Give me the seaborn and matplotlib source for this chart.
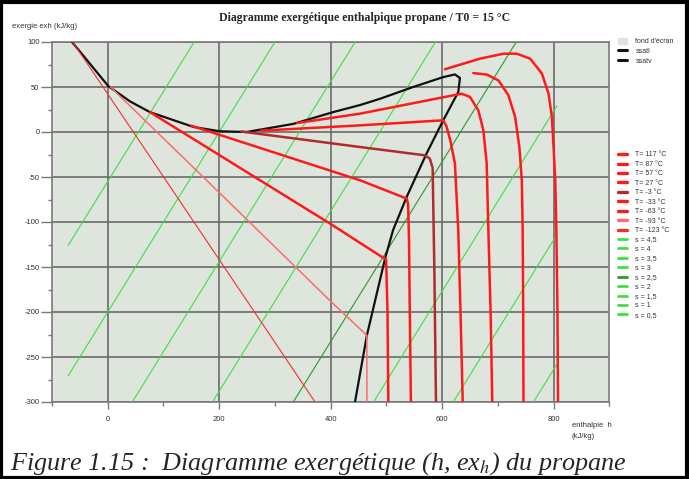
import numpy as np
import pandas as pd
import matplotlib
matplotlib.use("Agg")
import matplotlib.pyplot as plt
import seaborn as sns
from matplotlib.lines import Line2D
from matplotlib.patches import Patch, Rectangle

sns.set_theme(style="white")
plt.rcParams['font.family'] = ['Liberation Sans', 'DejaVu Sans']
plt.rcParams['mathtext.fontset'] = 'stix'
plt.rcParams['axes.unicode_minus'] = False

# ---------------- data (h in kJ/kg, ex in kJ/kg) ----------------
sat_liq_h = [-71, -64, 1, 40, 76, 154, 201, 249, 333, 404, 453, 489, 548, 602, 623, 632]
sat_liq_ex = [108, 100, 51, 34, 22, 5.6, 0.8, 0, 9, 22, 30, 37, 50, 61, 64, 60]
sat_vap_h = [632, 629, 602, 572, 536.5, 512, 497.6, 465, 443.7]
sat_vap_ex = [60, 44.4, 13, -24, -72, -109, -140.7, -226, -300]

T_labels = ["T= 117 °C", "T= 87 °C", "T= 57 °C", "T= 27 °C", "T= -3 °C",
            "T= -33 °C", "T= -63 °C", "T= -93 °C", "T= -123 °C"]
iso_T_h = [
    [605, 668, 710, 734, 758, 779, 791, 797, 800, 803, 805, 807, 808],
    [656, 680, 701, 719, 731, 738.6, 743, 744.6, 745.5, 746],
    [340, 453, 635, 650, 665, 674, 680, 683, 687, 690],
    [275, 453, 602, 608, 615, 623, 629, 633, 637],
    [240, 453, 569, 578, 583, 584, 586, 589],
    [150, 453, 536.5, 539, 540.6, 542, 544],
    [76, 273.5, 399, 499.5, 502, 503.5],
    [5, 178, 399, 465, 465],
    [-71, 372],
]
iso_T_ex = [
    [69.7, 81.5, 87, 87, 81.5, 65, 42.6, 16.7, -16.7, -53.7, -109, -200, -300],
    [65.5, 63.8, 57.4, 40.8, 16.7, -16.7, -53.7, -109, -200, -300],
    [10, 20.4, 42.6, 39, 24, 2, -35, -109, -200, -300],
    [1.5, 7.4, 13, 6, -10, -35, -109, -200, -300],
    [0.5, -16.7, -25.9, -29.6, -40, -76, -150, -300],
    [7, -53.7, -74, -80, -120, -200, -300],
    [22, -53.7, -101.8, -141.8, -200, -300],
    [50, -54, -187.5, -226, -300],
    [107.6, -300],
]

s_labels = ["s = 4,5", "s = 4", "s = 3,5", "s = 3", "s = 2,5",
            "s = 2", "s = 1,5", "s = 1", "s = 0,5"]
isentrope_h = [-71, 806]
isentrope_ex = [
    [-1279, -402],
    [-1135, -258],
    [-991, -114],
    [-848, 29],
    [-704, 173],
    [-559, 318],
    [-415, 462],
    [-271, 606],
    [-126, 751],
]

x_ticks = [0, 200, 400, 600, 800]
y_ticks = [100, 50, 0, -50, -100, -150, -200, -250, -300]

# ---------------- styles ----------------
BG = '#dde5dd'
red_colors = ['#ff1a1a'] * 4 + ['#b22a2a'] + ['#ff1a1a'] * 2 + ['#ff6a6a', '#f03030']
red_lw = [1.8] * 7 + [1.1, 0.8]
green_colors = ['#3ee03e'] * 4 + ['#2a9a2a'] + ['#3ee03e'] * 4

W, H = 689, 479
fig = plt.figure(figsize=(W / 100, H / 100), dpi=100)
ax = fig.add_axes([52 / W, 1 - 402 / H, (609.3 - 52) / W, (402 - 42) / H])
ax.set_facecolor(BG)

for ex, c in zip(isentrope_ex, green_colors):
    sns.lineplot(x=isentrope_h, y=ex, sort=False, estimator=None, color=c, lw=0.8, ax=ax, zorder=3)
sns.lineplot(x=sat_liq_h, y=sat_liq_ex, sort=False, estimator=None, color='#111111', lw=1.6, ax=ax, zorder=4)
sns.lineplot(x=sat_vap_h, y=sat_vap_ex, sort=False, estimator=None, color='#111111', lw=1.6, ax=ax, zorder=4)
for hs, ex, c, lw in zip(iso_T_h, iso_T_ex, red_colors, red_lw):
    sns.lineplot(x=hs, y=ex, sort=False, estimator=None, color=c, lw=lw, ax=ax, zorder=5)

ax.set_xlim(-100, 900)
ax.set_ylim(-300, 100)
ax.set_xticks(x_ticks)
ax.set_xticks([-100, 100, 300, 500, 700, 900], minor=True)
ax.set_yticks(y_ticks)
ax.set_yticks(np.arange(-275, 100, 50), minor=True)
ax.grid(True, which='major', color='#6a6a6a', lw=1.2, zorder=1)
ax.set_axisbelow(True)
for sp in ax.spines.values():
    sp.set_color('#7a7a7a')
    sp.set_linewidth(1.2)
ax.tick_params(axis='y', which='major', length=8, width=1, color='#7a7a7a', pad=1,
               labelsize=5.5, labelcolor='#333333', left=True)
ax.tick_params(axis='y', which='minor', length=3, width=1, color='#7a7a7a', left=True)
ax.tick_params(axis='x', which='major', length=5, width=1, color='#7a7a7a', pad=5,
               labelsize=5.5, labelcolor='#333333', bottom=True)
ax.tick_params(axis='x', which='minor', length=3, width=1, color='#7a7a7a', bottom=True)
ax.set_xlabel('')
ax.set_ylabel('')

# texts
fig.text(365 / W, 1 - 18 / H, "Diagramme exergétique enthalpique propane / T0 = 15 °C",
         ha='center', va='center', fontsize=8.5, fontweight='bold', family='Liberation Serif')
fig.text(12 / W, 1 - 27 / H, "exergie exh (kJ/kg)", ha='left', va='center', fontsize=5.5, color='#333333')
fig.text(572 / W, 1 - 425.5 / H, "enthalpie  h", ha='left', va='center', fontsize=5.5, color='#333333')
fig.text(572 / W, 1 - 436.5 / H, "(kJ/kg)", ha='left', va='center', fontsize=5.5, color='#333333')
fig.text(10 / W, 1 - 464 / H, "Figure 1.15 :  Diagramme exergétique (h, ex$_h$) du propane",
         ha='left', va='center', fontsize=18.8, style='italic', family='Liberation Serif')

# legends
h1 = [Patch(facecolor=BG, edgecolor=BG),
      Line2D([], [], color='#111111', lw=2.2),
      Line2D([], [], color='#111111', lw=2.2)]
leg1 = fig.legend(h1, ["fond d'écran", "ssatl", "ssatv"], loc='upper left',
                  bbox_to_anchor=(618 / W, 1 - 38 / H), frameon=False, fontsize=5,
                  handlelength=1.3, handleheight=1.0, handletextpad=1.2, labelspacing=0.3,
                  borderpad=0, borderaxespad=0)
h2 = [Line2D([], [], color=c, lw=2.4) for c in red_colors] + \
     [Line2D([], [], color=c, lw=2.0) for c in green_colors]
leg2 = fig.legend(h2, T_labels + s_labels, loc='upper left',
                  bbox_to_anchor=(618 / W, 1 - 151.5 / H), frameon=False, fontsize=5,
                  handlelength=1.3, handletextpad=1.2, labelspacing=0.35,
                  borderpad=0, borderaxespad=0)
for t in leg1.get_texts() + leg2.get_texts():
    t.set_color('#333333')

fig.patches.append(Rectangle((0.002, 0.002), 0.995, 0.994, transform=fig.transFigure,
                             fill=False, edgecolor='black', lw=3))

fig.savefig('out.png', dpi=100)
